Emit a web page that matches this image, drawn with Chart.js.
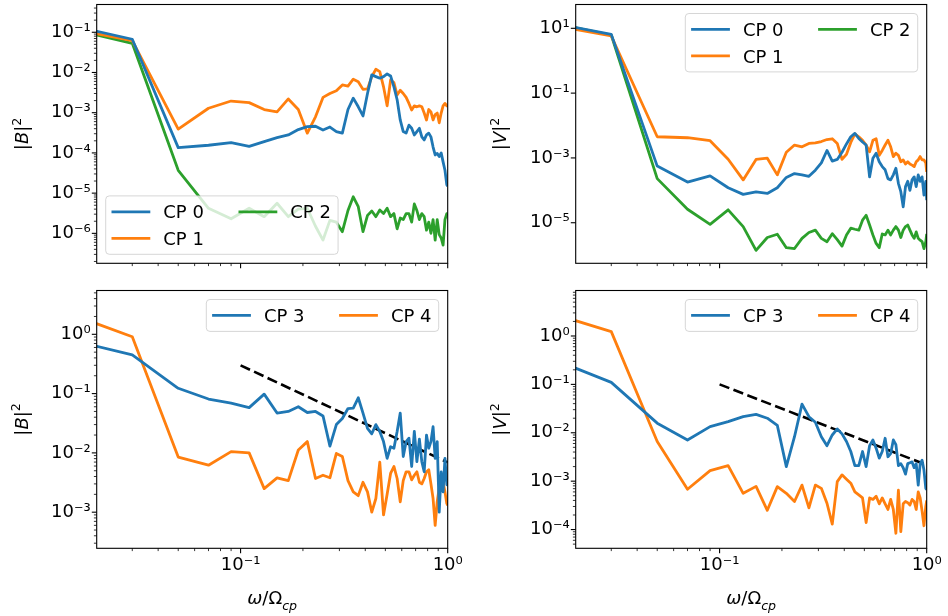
<!DOCTYPE html>
<html>
<head>
<meta charset="utf-8">
<script src="https://cdn.jsdelivr.net/npm/chart.js@4.4.1/dist/chart.umd.min.js"></script>
<style>
  html, body { margin: 0; padding: 0; background: #fff; }
  #fig { position: relative; width: 948px; height: 616px; overflow: hidden; }
  #fig canvas { position: absolute; }
</style>
</head>
<body>
<div id="fig">
  <canvas id="cTL" width="474" height="277" style="left:0;top:0"></canvas>
  <canvas id="cTR" width="474" height="277" style="left:474px;top:0"></canvas>
  <canvas id="cBL" width="474" height="339" style="left:0;top:277px"></canvas>
  <canvas id="cBR" width="474" height="339" style="left:474px;top:277px"></canvas>
</div>
<script>
// frequencies (omega / Omega_cp)
const freqs = [0.02, 0.03, 0.05, 0.07, 0.09, 0.11, 0.13, 0.15, 0.17, 0.19,
  0.21, 0.23, 0.25, 0.27, 0.29, 0.31, 0.33, 0.35, 0.37, 0.39,
  0.41, 0.43, 0.45, 0.47, 0.49, 0.51, 0.53, 0.55, 0.57, 0.59,
  0.61, 0.63, 0.65, 0.67, 0.69, 0.71, 0.73, 0.75, 0.77, 0.79,
  0.81, 0.83, 0.85, 0.87, 0.89, 0.91, 0.93, 0.95, 0.97, 0.99, 1.0];

// |B|^2, CP 0-2
const bCP0 = [0.107, 0.067, 1.35e-4, 1.55e-4, 1.8e-4, 1.45e-4, 1.9e-4, 2.4e-4, 2.8e-4, 3.8e-4,
  4.5e-4, 4.6e-4, 3.7e-4, 4.4e-4, 3.4e-4, 3.1e-4, 1.2e-3, 2.3e-3, 1.4e-3, 8.3e-4,
  3.0e-3, 8.7e-3, 7.9e-3, 7.2e-3, 7.9e-3, 9.2e-3, 8.2e-3, 4.4e-3, 2.1e-3, 6.6e-4,
  3.4e-4, 3.1e-4, 4.9e-4, 4.1e-4, 2.8e-4, 3.4e-4, 4.1e-4, 2.5e-4, 2.1e-4, 2.8e-4,
  3.1e-4, 2.5e-4, 1.4e-4, 8.9e-5, 9.7e-5, 8.1e-5, 1.0e-4, 6.0e-5, 3.7e-5, 1.6e-5, 1.5e-5];
const bCP1 = [0.093, 0.062, 3.9e-4, 1.29e-3, 1.95e-3, 1.78e-3, 1.2e-3, 1.05e-3, 2.2e-3, 1.2e-3,
  3.1e-4, 7.9e-4, 2.4e-3, 3.0e-3, 3.5e-3, 4.9e-3, 4.6e-3, 6.8e-3, 5.9e-3, 3.8e-3,
  3.9e-3, 7.9e-3, 1.2e-2, 1.05e-2, 4.4e-3, 1.48e-3, 6.5e-3, 5.6e-3, 2.75e-3, 3.6e-3,
  3.0e-3, 2.4e-3, 1.7e-3, 1.17e-3, 1.48e-3, 1.4e-3, 1.48e-3, 1.4e-3, 9.8e-4, 6.6e-4,
  1.2e-3, 1.05e-3, 6.6e-4, 9.0e-4, 9.8e-4, 5.6e-4, 9.8e-4, 1.48e-3, 1.7e-3, 1.48e-3, 1.5e-3];
const bCP2 = [0.087, 0.053, 3.7e-5, 4.2e-6, 2.3e-6, 4.2e-6, 2.6e-6, 5.6e-6, 2.6e-6, 4.0e-6,
  4.2e-6, 1.5e-6, 6.8e-7, 2.1e-6, 1.9e-6, 1.1e-6, 3.7e-6, 8.1e-6, 4.6e-6, 1.1e-6,
  2.8e-6, 3.6e-6, 2.6e-6, 3.8e-6, 3.1e-6, 4.2e-6, 2.6e-6, 3.1e-6, 1.3e-6, 2.4e-6,
  2.2e-6, 3.1e-6, 3.1e-6, 1.9e-6, 5.4e-6, 3.7e-6, 2.2e-6, 3.1e-6, 2.6e-6, 1.2e-6,
  1.9e-6, 1.0e-6, 2.2e-6, 6.8e-7, 2.2e-6, 9.3e-7, 7.7e-7, 5.1e-7, 2.2e-6, 3.1e-6, 3.1e-6];

// |V|^2, CP 0-2
const vCP0 = [10.7, 6.5, 5.6e-4, 1.8e-4, 2.8e-4, 1.2e-4, 7.5e-5, 9.0e-5, 8.0e-5, 1.2e-4,
  2.5e-4, 3.3e-4, 3.0e-4, 2.7e-4, 4.2e-4, 7.0e-4, 1.7e-3, 8.0e-4, 9.0e-4, 1.5e-3,
  2.7e-3, 4.5e-3, 5.7e-3, 4.0e-3, 3.1e-3, 2.5e-3, 2.6e-4, 9.8e-4, 1.4e-3, 7.6e-4,
  5.4e-4, 4.3e-4, 2.3e-4, 2.1e-4, 3.0e-4, 4.8e-4, 1.65e-4, 9.1e-5, 3.1e-5, 1.3e-4,
  1.9e-4, 1.0e-4, 2.1e-4, 2.6e-4, 1.3e-4, 3.0e-4, 1.9e-4, 2.6e-4, 7.1e-5, 1.9e-4, 5.0e-5];
const vCP1 = [9.3, 5.8, 4.5e-3, 4.2e-3, 3.4e-3, 9.1e-4, 2.1e-4, 9.0e-4, 9.8e-4, 3.0e-4,
  1.5e-3, 2.5e-3, 2.2e-3, 2.8e-3, 2.9e-3, 3.2e-3, 3.7e-3, 3.9e-3, 2.8e-3, 9.0e-4,
  1.3e-3, 3.0e-3, 5.5e-3, 4.5e-3, 3.5e-3, 2.5e-3, 1.55e-3, 3.5e-3, 3.9e-3, 1.2e-3,
  1.7e-3, 2.5e-3, 3.5e-3, 2.2e-3, 1.1e-3, 1.4e-3, 1.2e-3, 7.6e-4, 8.7e-4, 6.5e-4,
  7.6e-4, 6.5e-4, 6.0e-4, 5.4e-4, 7.6e-4, 8.7e-4, 1.1e-3, 8.7e-4, 8.7e-4, 7.0e-4, 3.7e-4];
const vCP2 = [10.5, 6.2, 2.3e-4, 2.6e-5, 8.9e-6, 2.5e-5, 7.6e-6, 1.4e-6, 3.5e-6, 4.4e-6,
  1.7e-6, 1.6e-6, 3.3e-6, 5.0e-6, 5.9e-6, 3.3e-6, 2.6e-6, 4.6e-6, 3.0e-6, 1.9e-6,
  4.2e-6, 6.8e-6, 6.3e-6, 5.9e-6, 1.2e-5, 1.7e-5, 8.5e-6, 4.2e-6, 2.3e-6, 1.7e-6,
  4.5e-6, 4.2e-6, 5.9e-6, 4.2e-6, 5.9e-6, 7.6e-6, 5.9e-6, 3.5e-6, 5.9e-6, 7.6e-6,
  8.5e-6, 5.9e-6, 4.2e-6, 3.3e-6, 5.2e-6, 3.3e-6, 2.9e-6, 2.6e-6, 1.6e-6, 2.6e-6, 4.5e-6];

// |B|^2, CP 3-4
const bCP3 = [0.635, 0.448, 0.123, 0.081, 0.069, 0.058, 0.098, 0.047, 0.050, 0.060,
  0.048, 0.050, 0.042, 0.013, 0.030, 0.038, 0.056, 0.057, 0.085, 0.047,
  0.026, 0.021, 0.030, 0.023, 0.0155, 0.0081, 0.0127, 0.012, 0.023, 0.047,
  0.0087, 0.0155, 0.0177, 0.0059, 0.023, 0.0071, 0.017, 0.0071, 0.0048, 0.020,
  0.012, 0.0155, 0.0276, 0.0081, 0.0155, 0.0010, 0.0048, 0.0022, 0.0081, 0.0029, 0.0029];
const bCP4 = [1.53, 0.91, 0.0085, 0.0062, 0.0105, 0.010, 0.0025, 0.0038, 0.0034, 0.0112,
  0.0155, 0.0037, 0.0042, 0.0038, 0.0098, 0.0087, 0.0034, 0.0022, 0.0019, 0.0032,
  0.0022, 0.0010, 0.0017, 0.0070, 0.0009, 0.0020, 0.0045, 0.0059, 0.0037, 0.0015,
  0.0034, 0.0048, 0.0048, 0.0035, 0.0042, 0.0048, 0.0032, 0.0030, 0.0037, 0.0048,
  0.0052, 0.0030, 0.0017, 0.0006, 0.0015, 0.0026, 0.0030, 0.0032, 0.0022, 0.0014, 0.0013];

// |V|^2, CP 3-4
const vCP3 = [0.22, 0.110, 0.0158, 0.0071, 0.0134, 0.0170, 0.0215, 0.024, 0.020, 0.0142,
  0.0020, 0.0083, 0.039, 0.0215, 0.0165, 0.0083, 0.0054, 0.0090, 0.012, 0.0095,
  0.0066, 0.0041, 0.0021, 0.0021, 0.0041, 0.0020, 0.0054, 0.0071, 0.0048, 0.0030,
  0.0041, 0.0077, 0.0032, 0.0037, 0.0071, 0.0057, 0.0021, 0.0023, 0.0019, 0.0014,
  0.0023, 0.0024, 0.0025, 0.0019, 0.0023, 0.00083, 0.0023, 0.0027, 0.0017, 0.00071, 0.00067];
const vCP4 = [2.1, 1.23, 0.0066, 0.00068, 0.00165, 0.0021, 0.00056, 0.00078, 0.00025, 0.00077,
  0.00056, 0.00038, 0.00083, 0.00028, 0.00083, 0.00071, 0.00035, 0.00013, 0.00098, 0.00135,
  0.0011, 0.00091, 0.0006, 0.00052, 0.00045, 0.00014, 0.00045, 0.00042, 0.00049, 0.00034,
  0.00045, 0.00034, 0.00026, 0.00042, 0.00026, 0.000084, 0.00065, 0.000091, 0.00034, 0.00038,
  0.00036, 0.00032, 0.00042, 0.00038, 0.00026, 0.0006, 0.00045, 0.00024, 0.00012, 0.0003, 0.0004];

// -5/3 reference slopes
const bSlopeX = [0.1, 1.0];
const bSlopeY = [0.3, 0.0069];
const vSlopeX = [0.1, 1.0];
const vSlopeY = [0.1, 0.00216];

// ticks
const xMajorTicks = [0.1, 1];
const xTickLabels = ['10⁻¹', '10⁰'];
const tlYTicks = [1e-6, 1e-5, 1e-4, 1e-3, 1e-2, 1e-1];
const tlYLabels = ['10⁻⁶', '10⁻⁵', '10⁻⁴', '10⁻³', '10⁻²', '10⁻¹'];
const trYTicks = [1e-5, 1e-3, 1e-1, 10];
const trYLabels = ['10⁻⁵', '10⁻³', '10⁻¹', '10¹'];
const blYTicks = [1e-3, 1e-2, 1e-1, 1];
const blYLabels = ['10⁻³', '10⁻²', '10⁻¹', '10⁰'];
const brYTicks = [1e-4, 1e-3, 1e-2, 1e-1, 1];
const brYLabels = ['10⁻⁴', '10⁻³', '10⁻²', '10⁻¹', '10⁰'];

const BLUE = '#1f77b4', ORANGE = '#ff7f0e', GREEN = '#2ca02c';
const FS = 18;

Chart.defaults.font.family = '"DejaVu Sans", sans-serif';
Chart.defaults.color = '#000';

function sameVal(a, b) { return Math.abs(Math.log10(a) - Math.log10(b)) < 1e-6; }

function logTicks(min, max, majors, withMinor) {
  const out = [];
  const lo = Math.floor(Math.log10(min)) - 1, hi = Math.ceil(Math.log10(max)) + 1;
  for (let e = lo; e <= hi; e++) {
    for (let m = 1; m <= 9; m++) {
      const v = m * Math.pow(10, e);
      if (v < min * (1 - 1e-9) || v > max * (1 + 1e-9)) continue;
      const isMajor = majors.some(t => sameVal(t, v));
      if (isMajor || (withMinor && m > 1)) out.push({ value: v, major: isMajor });
    }
  }
  return out;
}

function labelFor(v, majors, labels) {
  const i = majors.findIndex(t => sameVal(t, v));
  return i >= 0 ? labels[i] : '';
}

function drawRuns(ctx, runs, size) {
  const parts = runs.map(r => {
    const s = (r.sup || r.sub) ? size * 0.7 : size;
    const font = (r.it ? 'italic ' : '') + s + 'px "DejaVu Sans"';
    ctx.font = font;
    return { t: r.t, font, w: ctx.measureText(r.t).width, dy: r.sup ? -0.4 * size : (r.sub ? 0.33 * size : 0) };
  });
  const total = parts.reduce((s, p) => s + p.w, 0);
  let x = -total / 2;
  ctx.textBaseline = 'alphabetic';
  ctx.textAlign = 'left';
  parts.forEach(p => { ctx.font = p.font; ctx.fillText(p.t, x, p.dy); x += p.w; });
}

// matplotlib-like legend drawn inside the axes
function legendDecor(loc, ncol) {
  return {
    id: 'mplLegend',
    afterDatasetsDraw(chart) {
      const ctx = chart.ctx, a = chart.chartArea;
      const items = chart.data.datasets.filter(d => d.label);
      const pad = 0.4 * FS, hl = 2 * FS, htp = 0.8 * FS, cs = 2 * FS, ls = 0.5 * FS, th = 17.5, bap = 0.5 * FS;
      ctx.save();
      ctx.font = FS + 'px "DejaVu Sans"';
      const nrow = Math.ceil(items.length / ncol);
      const cols = [];
      for (let c = 0; c < ncol; c++) cols.push(items.slice(c * nrow, (c + 1) * nrow));
      const colW = cols.map(col => hl + htp + Math.max(...col.map(d => ctx.measureText(d.label).width)));
      const w = 2 * pad + colW.reduce((s, v) => s + v, 0) + cs * (ncol - 1);
      const h = 2 * pad + nrow * th + (nrow - 1) * ls;
      const x0 = loc.includes('left') ? a.left + bap : a.right - bap - w;
      const y0 = loc.includes('upper') ? a.top + bap : a.bottom - bap - h;
      const r = 0.2 * FS;
      ctx.beginPath();
      ctx.roundRect(x0, y0, w, h, r);
      ctx.fillStyle = 'rgba(255,255,255,0.8)';
      ctx.fill();
      ctx.lineWidth = 1;
      ctx.strokeStyle = 'rgba(204,204,204,0.8)';
      ctx.stroke();
      let cx = x0 + pad;
      cols.forEach((col, ci) => {
        col.forEach((d, ri) => {
          const cy = y0 + pad + th / 2 + ri * (th + ls);
          ctx.strokeStyle = d.borderColor;
          ctx.lineWidth = d.borderWidth;
          ctx.lineCap = 'square';
          ctx.beginPath();
          ctx.moveTo(cx, cy);
          ctx.lineTo(cx + hl, cy);
          ctx.stroke();
          ctx.fillStyle = '#000';
          ctx.textBaseline = 'alphabetic';
          ctx.textAlign = 'left';
          ctx.fillText(d.label, cx + hl + htp, cy + 0.729 * FS / 2);
        });
        cx += colW[ci] + cs;
      });
      ctx.restore();
    }
  };
}

// frame, tick marks and math-style axis labels
function axesDecor(cfg) {
  return {
    id: 'mplAxes',
    afterDraw(chart) {
      const ctx = chart.ctx, a = chart.chartArea;
      const xs = chart.scales.x, ys = chart.scales.y;
      ctx.save();
      ctx.strokeStyle = '#000';
      ctx.lineCap = 'butt';
      xs.ticks.forEach(t => {
        const p = xs.getPixelForValue(t.value);
        if (p < a.left - 0.5 || p > a.right + 0.5) return;
        ctx.lineWidth = t.major ? 1.1 : 0.8;
        ctx.beginPath();
        ctx.moveTo(p, a.bottom);
        ctx.lineTo(p, a.bottom + (t.major ? 4.9 : 2.8));
        ctx.stroke();
      });
      ys.ticks.forEach(t => {
        const p = ys.getPixelForValue(t.value);
        if (p < a.top - 0.5 || p > a.bottom + 0.5) return;
        ctx.lineWidth = t.major ? 1.1 : 0.8;
        ctx.beginPath();
        ctx.moveTo(a.left, p);
        ctx.lineTo(a.left - (t.major ? 4.9 : 2.8), p);
        ctx.stroke();
      });
      ctx.lineWidth = 1.1;
      ctx.strokeRect(a.left, a.top, a.right - a.left, a.bottom - a.top);
      ctx.fillStyle = '#000';
      ctx.save();
      ctx.translate(cfg.yLabelX, (a.top + a.bottom) / 2);
      ctx.rotate(-Math.PI / 2);
      drawRuns(ctx, cfg.yLabel, FS);
      ctx.restore();
      if (cfg.xLabel) {
        ctx.save();
        ctx.translate((a.left + a.right) / 2, cfg.xLabelY);
        drawRuns(ctx, cfg.xLabel, FS);
        ctx.restore();
      }
      ctx.restore();
    }
  };
}

function zeroPad(s) { s.paddingTop = 0; s.paddingBottom = 0; s.paddingLeft = 0; s.paddingRight = 0; }

function series(label, values, color) {
  return { label, data: values, borderColor: color, borderWidth: 2.8, clip: 0 };
}
function slope(xs, ys) {
  return { data: xs.map((x, i) => ({ x, y: ys[i] })), borderColor: '#000', borderWidth: 2.6,
           borderDash: [10.4, 4.5], clip: 0 };
}

function makePanel(id, cfg) {
  const canvas = document.getElementById(id);
  const W = canvas.width, H = canvas.height, a = cfg.area;
  return new Chart(canvas, {
    type: 'line',
    data: { labels: freqs, datasets: cfg.datasets },
    options: {
      responsive: false,
      animation: false,
      events: [],
      layout: { padding: { left: 0, top: a.top, right: W - a.right, bottom: 0 } },
      elements: {
        point: { radius: 0 },
        line: { tension: 0, borderJoinStyle: 'round', borderCapStyle: 'butt', fill: false }
      },
      scales: {
        x: {
          type: 'logarithmic', min: 0.0202, max: 1.0,
          grid: { display: false, drawTicks: false },
          border: { display: false },
          ticks: {
            display: !!cfg.xLabel, autoSkip: false, maxRotation: 0, minRotation: 0, padding: 6,
            color: '#000', font: { size: FS },
            callback: v => labelFor(v, xMajorTicks, xTickLabels)
          },
          afterBuildTicks: s => { s.ticks = logTicks(s.min, s.max, xMajorTicks, true); },
          afterFit: s => { s.height = H - a.bottom; zeroPad(s); }
        },
        y: {
          type: 'logarithmic', min: cfg.yMin, max: cfg.yMax,
          grid: { display: false, drawTicks: false },
          border: { display: false },
          ticks: {
            autoSkip: false, padding: 6, color: '#000', font: { size: FS },
            callback: v => labelFor(v, cfg.yTicks, cfg.yLabels)
          },
          afterBuildTicks: s => { s.ticks = logTicks(s.min, s.max, cfg.yTicks, cfg.yMinor); },
          afterFit: s => { s.width = a.left; zeroPad(s); }
        }
      },
      plugins: { legend: { display: false }, tooltip: { enabled: false } }
    },
    plugins: [legendDecor(cfg.loc, 2), axesDecor(cfg)]
  });
}

const labB = [{ t: '|' }, { t: 'B', it: true }, { t: '|' }, { t: '2', sup: true }];
const labV = [{ t: '|' }, { t: 'V', it: true }, { t: '|' }, { t: '2', sup: true }];
const labX = [{ t: 'ω', it: true }, { t: '/' }, { t: 'Ω' }, { t: 'cp', it: true, sub: true }];

makePanel('cTL', {
  area: { left: 96.7, top: 4.5, right: 447.7, bottom: 263.3 },
  yMin: 1.8e-7, yMax: 0.49, yTicks: tlYTicks, yLabels: tlYLabels, yMinor: true,
  yLabel: labB, yLabelX: 27.8, loc: 'lower left',
  datasets: [series('CP 0', bCP0, BLUE), series('CP 1', bCP1, ORANGE), series('CP 2', bCP2, GREEN)]
});
makePanel('cTR', {
  area: { left: 101.7, top: 4.5, right: 452.7, bottom: 263.3 },
  yMin: 5.6e-7, yMax: 54.3, yTicks: trYTicks, yLabels: trYLabels, yMinor: false,
  yLabel: labV, yLabelX: 31.8, loc: 'upper right',
  datasets: [series('CP 0', vCP0, BLUE), series('CP 1', vCP1, ORANGE), series('CP 2', vCP2, GREEN)]
});
makePanel('cBL', {
  area: { left: 96.7, top: 13.5, right: 447.7, bottom: 271.3 },
  yMin: 2.46e-4, yMax: 5.48, yTicks: blYTicks, yLabels: blYLabels, yMinor: true,
  yLabel: labB, yLabelX: 27.5, xLabel: labX, xLabelY: 327.3, loc: 'upper right',
  datasets: [series('CP 3', bCP3, BLUE), series('CP 4', bCP4, ORANGE), slope(bSlopeX, bSlopeY)]
});
makePanel('cBR', {
  area: { left: 101.7, top: 13.5, right: 452.7, bottom: 271.3 },
  yMin: 4.1e-5, yMax: 8.71, yTicks: brYTicks, yLabels: brYLabels, yMinor: true,
  yLabel: labV, yLabelX: 31.8, xLabel: labX, xLabelY: 327.3, loc: 'upper right',
  datasets: [series('CP 3', vCP3, BLUE), series('CP 4', vCP4, ORANGE), slope(vSlopeX, vSlopeY)]
});
</script>
</body>
</html>
